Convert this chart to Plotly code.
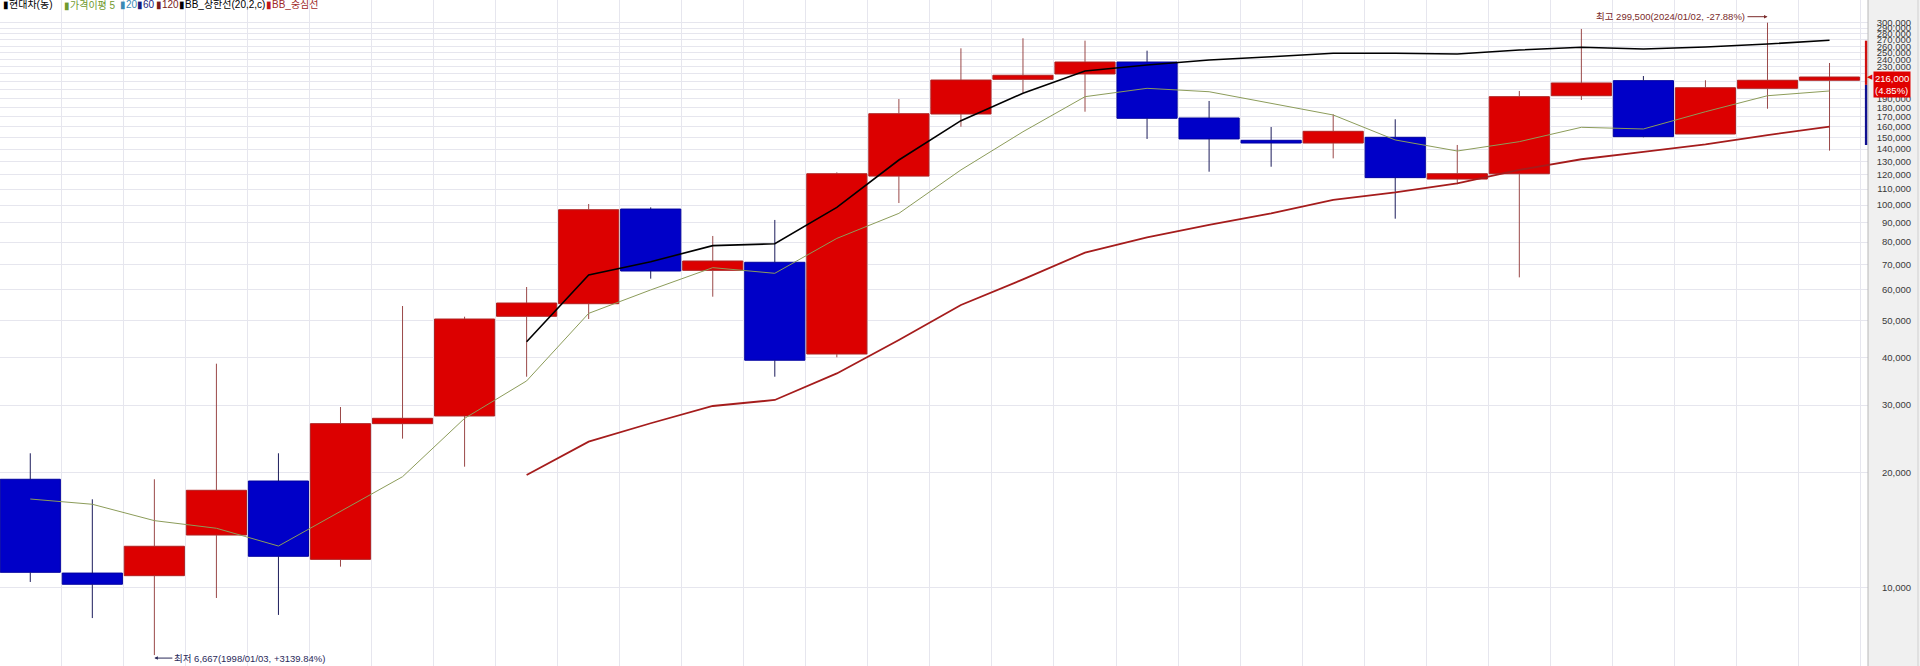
import math
import plotly.graph_objects as go

# ---------------- data (yearly candles, 현대차) ----------------
years = list(range(1996, 2026))
opens = [19200, 10920, 10750, 13730, 19000, 11860, 26830, 28100, 51200, 55220,
         97600, 67500, 70850, 40800, 119000, 172900, 213000, 220000, 236400, 168800,
         147600, 145200, 150300, 116900, 120700, 193000, 211300, 153300, 201800, 211800]
highs = [22450, 17020, 19200, 38490, 22450, 29660, 54460, 51070, 61060, 100600,
         98600, 83000, 91400, 121700, 189200, 256700, 272700, 268800, 253100, 187000,
         159900, 172600, 167500, 143500, 198600, 288400, 217300, 211800, 299500, 235000]
lows = [10350, 8330, 6667, 9400, 8490, 11350, 24520, 20710, 35590, 50360,
        64200, 57600, 35590, 40000, 101200, 160200, 196600, 175300, 148800, 122200,
        125900, 132400, 92100, 113300, 64700, 188100, 150300, 153300, 178500, 138700]
closes = [10970, 10210, 12830, 17970, 12080, 26830, 27710, 50360, 55450, 97200,
          67230, 71400, 39300, 120700, 173200, 212100, 218300, 236400, 168500, 148800,
          145200, 155800, 117900, 120700, 191900, 208400, 150900, 202500, 211800, 216000]

ma5 = [17050, 16520, 14970, 14300, 12850, 15830, 19500, 27700, 34700, 52100,
       60000, 68600, 66300, 81800, 95100, 123500, 155400, 191900, 201800, 197700,
       184400, 171900, 147900, 138400, 146400, 159600, 158000, 175300, 193000, 198600]

bb_years = list(range(2004, 2026))
bb_upper = [43900, 65600, 71100, 78300, 79200, 98600, 131100, 166100, 195900, 223900,
            232200, 239300, 244100, 249100, 249100, 248000, 254100, 258300, 255700,
            258700, 263400, 269400]
bb_mid = [19700, 24070, 26900, 29840, 30940, 36300, 44400, 54800, 63900, 75100,
          82300, 88700, 95100, 103100, 107900, 113900, 123500, 131700, 137600,
          144100, 152300, 160200]

tick_values = list(range(10000, 300001, 10000))
hidden_tick_labels = [200000, 210000, 220000]

current_price = 216000
current_change = "(4.85%)"
prev_close = 206000
range_top = 268800
range_bottom = 143500

high_text = "최고 299,500(2024/01/02, -27.88%)"
high_year, high_val = 2024, 299500
low_text = "최저 6,667(1998/01/03, +3139.84%)"
low_year, low_val = 1998, 6667

legend_items = [
    ("현대차(동)", "#000000", "#000000", 1),
    ("가격이평 5", "#6f9a2e", "#6f9a2e", 62),
    ("20", "#3a8ab5", "#3a8ab5", 118),
    ("60", "#1b1b7b", "#1b1b7b", 135),
    ("120", "#7a1a1a", "#7a1a1a", 154),
    ("BB_상한선(20,2,c)", "#000000", "#000000", 177),
    ("BB_중심선", "#a02828", "#c01818", 264),
]

# ---------------- styling constants ----------------
W, H = 1920, 666
PLOT_RIGHT = 1868
FONT = "Liberation Sans, Noto Sans CJK KR, sans-serif"
GRID = "#e6e6ee"
UP_FILL, UP_LINE, UP_WICK = "#dc0000", "#b02020", "#9a4848"
DN_FILL, DN_LINE, DN_WICK = "#0000c8", "#0000a0", "#1c1c5c"

fig = go.Figure()

# bodies
is_up = [c >= o for o, c in zip(opens, closes)]
body_low = [min(o, c) for o, c in zip(opens, closes)]
body_high = [max(o, c) for o, c in zip(opens, closes)]
fig.add_trace(go.Bar(
    x=years,
    y=[bh - bl for bl, bh in zip(body_low, body_high)],
    base=body_low,
    width=0.97,
    marker=dict(color=[UP_FILL if u else DN_FILL for u in is_up],
                line=dict(color=[UP_LINE if u else DN_LINE for u in is_up], width=1)),
    hoverinfo="skip",
))

# wicks (outside the bodies only)
for up in (True, False):
    wx, wy = [], []
    for yr, u, h, l, bl, bh in zip(years, is_up, highs, lows, body_low, body_high):
        if u == up:
            if h > bh:
                wx += [yr, yr, None]
                wy += [bh, h, None]
            if l < bl:
                wx += [yr, yr, None]
                wy += [l, bl, None]
    fig.add_trace(go.Scatter(x=wx, y=wy, mode="lines",
                             line=dict(color=UP_WICK if up else DN_WICK, width=1),
                             hoverinfo="skip"))

fig.add_trace(go.Scatter(x=years, y=ma5, mode="lines",
                         line=dict(color="#8c9c5a", width=1), hoverinfo="skip"))
fig.add_trace(go.Scatter(x=bb_years, y=bb_mid, mode="lines",
                         line=dict(color="#a51c1c", width=1.8), hoverinfo="skip"))
fig.add_trace(go.Scatter(x=bb_years, y=bb_upper, mode="lines",
                         line=dict(color="#000000", width=1.6), hoverinfo="skip"))

# current price range marker at right edge
x_marker = years[-1] + 0.59
fig.add_trace(go.Scatter(x=[x_marker, x_marker], y=[prev_close, range_top], mode="lines",
                         line=dict(color="#d01010", width=2.5), cliponaxis=False, hoverinfo="skip"))
fig.add_trace(go.Scatter(x=[x_marker, x_marker], y=[range_bottom, prev_close], mode="lines",
                         line=dict(color="#101090", width=2.5), cliponaxis=False, hoverinfo="skip"))

annotations = []
for text, tcol, mcol, px in legend_items:
    annotations.append(dict(
        text=f"<span style='color:{mcol}'>▮</span>{text}",
        xref="paper", yref="paper", x=px / W, y=1 - 5 / H,
        xanchor="left", yanchor="middle", showarrow=False,
        font=dict(family=FONT, size=10, color=tcol)))

annotations.append(dict(
    text=high_text, x=high_year, y=math.log10(high_val), xref="x", yref="y",
    showarrow=True, ax=-20, ay=0, xanchor="right", yshift=6,
    arrowhead=2, arrowsize=0.7, arrowwidth=1, arrowcolor="#7a2a2a",
    font=dict(family=FONT, size=9.5, color="#7a2a2a")))
annotations.append(dict(
    text=low_text, x=low_year, y=math.log10(low_val), xref="x", yref="y",
    showarrow=True, ax=18, ay=0, xanchor="left", yshift=-3,
    arrowhead=2, arrowsize=0.7, arrowwidth=1, arrowcolor="#2a2a5a",
    font=dict(family=FONT, size=9.5, color="#2a2a5a")))

annotations.append(dict(
    text="◀", xref="paper", yref="y", x=1870 / W, y=math.log10(current_price),
    xanchor="center", yanchor="middle", showarrow=False,
    font=dict(family="DejaVu Sans", size=7, color="#e00000")))
annotations.append(dict(
    text=f"{current_price:,}<br>{current_change}", xref="paper", yref="y",
    x=1873 / W, y=math.log10(current_price), xanchor="left", yanchor="top", yshift=6,
    showarrow=False, align="left", bgcolor="#e00000", borderpad=1,
    font=dict(family=FONT, size=9.5, color="#ffffff")))

shapes = [
    dict(type="rect", xref="paper", yref="paper", x0=PLOT_RIGHT / W, x1=1, y0=0, y1=1,
         fillcolor="#f0f0f0", line=dict(width=0), layer="below"),
    dict(type="line", xref="paper", yref="paper", x0=PLOT_RIGHT / W, x1=PLOT_RIGHT / W,
         y0=0, y1=1, line=dict(color="#b8b8b8", width=1)),
    dict(type="line", xref="paper", yref="paper", x0=1918 / W, x1=1918 / W,
         y0=0, y1=1, line=dict(color="#d0d0d0", width=1)),
]

fig.update_layout(
    width=W, height=H,
    margin=dict(l=0, r=0, t=0, b=0, pad=0),
    paper_bgcolor="#ffffff", plot_bgcolor="#ffffff",
    showlegend=False, hovermode=False, barmode="overlay",
    annotations=annotations, shapes=shapes,
    xaxis=dict(domain=[0, PLOT_RIGHT / W], range=[years[0] - 0.488, years[-1] + 0.62],
               tickvals=[y + 0.5 for y in years], showticklabels=False, ticks="",
               showgrid=True, gridcolor=GRID, gridwidth=1, zeroline=False, showline=False,
               fixedrange=True),
    yaxis=dict(type="log", range=[3.7954, 5.5357], anchor="free", position=1911 / W,
               side="left", tickvals=tick_values,
               ticktext=["" if v in hidden_tick_labels else f"{v:,}" for v in tick_values],
               ticks="", showgrid=True, gridcolor=GRID, gridwidth=1, zeroline=False,
               showline=False, automargin=False, fixedrange=True,
               tickfont=dict(family=FONT, size=9.5, color="#3a3a3a")),
)

fig.write_html("out.html", config={"displayModeBar": False},
               post_script="document.body.style.margin='0';document.body.style.overflow='hidden';")
